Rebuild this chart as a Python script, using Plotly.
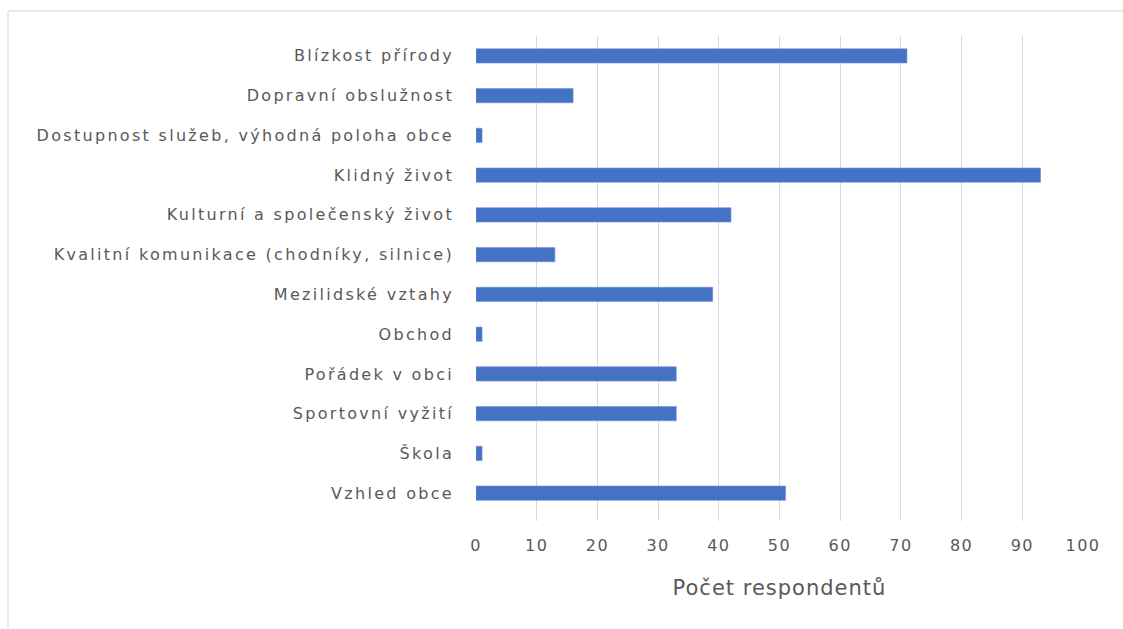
import plotly.graph_objects as go

categories = [
    "Blízkost přírody",
    "Dopravní obslužnost",
    "Dostupnost služeb, výhodná poloha obce",
    "Klidný život",
    "Kulturní a společenský život",
    "Kvalitní komunikace (chodníky, silnice)",
    "Mezilidské vztahy",
    "Obchod",
    "Pořádek v obci",
    "Sportovní vyžití",
    "Škola",
    "Vzhled obce",
]
respondents = [71, 16, 1, 93, 42, 13, 39, 1, 33, 33, 1, 51]
x_ticks = [0, 10, 20, 30, 40, 50, 60, 70, 80, 90, 100]
x_title = "Počet respondentů"

W, H = 1123, 629
L, R, T, B = 476, 40, 36, 108
pw, ph = W - L - R, H - T - B

fig = go.Figure(
    go.Bar(
        x=respondents,
        y=categories,
        orientation="h",
        width=0.36,
        marker=dict(color="#4472C4", line=dict(color="#6f93d6", width=0.6)),
    )
)

font = "'DejaVu Sans', sans-serif"

fig.update_layout(
    width=W,
    height=H,
    margin=dict(l=L, r=R, t=T, b=B),
    paper_bgcolor="white",
    plot_bgcolor="white",
    showlegend=False,
    font=dict(family=font, color="#595959"),
    xaxis=dict(
        range=[0, 100],
        tickvals=x_ticks,
        ticktext=[str(v) for v in x_ticks],
        showgrid=True,
        gridcolor="#d9d9d9",
        gridwidth=1,
        zeroline=False,
        showline=False,
        tickfont=dict(size=16, color="#595959"),
        ticks="",
        ticklabelstandoff=13,
        title=dict(text=x_title, font=dict(size=21, color="#595959"), standoff=26),
    ),
    yaxis=dict(
        type="category",
        categoryorder="array",
        categoryarray=categories,
        range=[11.7, -0.5],
        showgrid=False,
        zeroline=False,
        showline=False,
        ticks="",
        ticklabelstandoff=21,
        tickfont=dict(size=16, color="#595959"),
    ),
    shapes=[
        # outer chart frame: left and top edges
        dict(type="line", xref="paper", yref="paper",
             x0=(8 - L) / pw, x1=(8 - L) / pw,
             y0=1 + (T - 11) / ph, y1=-(H - T - ph) / ph - 0.1,
             line=dict(color="#e9e9dc", width=2)),
        dict(type="line", xref="paper", yref="paper",
             x0=(8 - L) / pw, x1=(W - L) / pw + 0.1,
             y0=1 + (T - 11) / ph, y1=1 + (T - 11) / ph,
             line=dict(color="#e9e9dc", width=2)),
    ],
)

# Loosen the letter spacing of axis texts after each render
spacing_js = """
var gd = document.getElementById('{plot_id}');
function loosen() {
  gd.querySelectorAll('.ytick text').forEach(function (t) { t.style.letterSpacing = '2.3px'; });
  gd.querySelectorAll('.xtick text').forEach(function (t) { t.style.letterSpacing = '1.5px'; });
  gd.querySelectorAll('.g-xtitle text').forEach(function (t) { t.style.letterSpacing = '1px'; });
}
loosen();
gd.on('plotly_afterplot', loosen);
"""

fig.write_html("out.html", post_script=spacing_js)
